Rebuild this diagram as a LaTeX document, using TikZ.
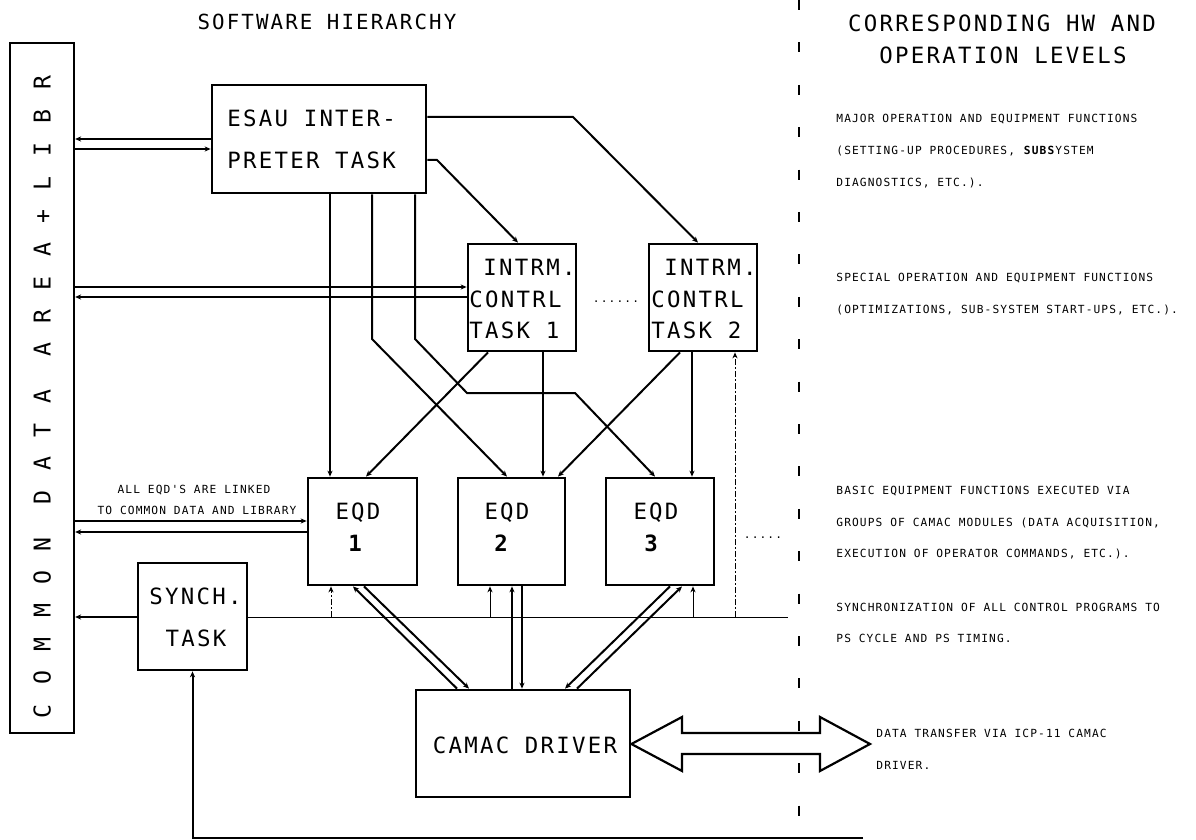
\documentclass[tikz,border=0pt]{standalone}
\usepackage{fontspec}
\usetikzlibrary{arrows.meta,fit}
\newfontfamily\pf[LetterSpace=10]{DejaVu Sans Mono}
\newfontfamily\pfv[LetterSpace=83.5]{DejaVu Sans Mono}
\begin{document}
\begin{tikzpicture}[x=0.5pt,y=-0.5pt,
  box/.style={draw,line width=1.4pt,inner sep=0pt},
  ln/.style={line width=1pt},
  fine/.style={line width=0.5pt},
  dd/.style={line width=0.5pt,dash pattern=on 3pt off 1.2pt on 0.6pt off 1.2pt},
  arr/.style={-{Stealth[length=3pt,width=2.6pt]}},
  big/.style={font={\pf\fontsize{11.2}{13}\selectfont},inner sep=0pt,text height=8.2pt,text depth=0pt},
  bign/.style={font={\pf\bfseries\fontsize{11.2}{13}\selectfont},inner sep=0pt,text height=8.2pt,text depth=0pt},
  ttl/.style={font={\pf\fontsize{10.4}{12}\selectfont},inner sep=0pt,text height=7.6pt,text depth=0pt},
  sml/.style={font={\pf\fontsize{5.6}{7}\selectfont},inner sep=0pt,text height=4.1pt,text depth=0pt,anchor=west},
  vtx/.style={font={\pfv\fontsize{11.6}{13}\selectfont},inner sep=0pt,text height=8.5pt,text depth=0pt,rotate=90}
]
\useasboundingbox (0,0) rectangle (1196,840);
\fill[white] (0,0) rectangle (1196,840);

% ---------- boxes ----------
\node[box,line width=1.2pt,fit={(10,43)(74,733)}] (cd) {};
\node[box,fit={(212,85)(426,193)}] (esau) {};
\node[box,fit={(468,244)(576,351)}] (i1) {};
\node[box,fit={(649,244)(757,351)}] (i2) {};
\node[box,fit={(308,478)(417,585)}] (e1) {};
\node[box,fit={(458,478)(565,585)}] (e2) {};
\node[box,fit={(606,478)(714,585)}] (e3) {};
\node[box,fit={(138,563)(247,670)}] (sy) {};
\node[box,fit={(416,690)(630,797)}] (cam) {};

% ---------- texts ----------
\node[vtx] (cdt) at (42,397) {COMMON\hspace{1.437em}DATA\hspace{1.437em}AREA+LIBR};
\node[ttl] (t1) at (327,22) {SOFTWARE HIERARCHY};
\node[big] (t2) at (1002,23) {CORRESPONDING HW AND};
\node[big] (t3) at (1003,55) {OPERATION LEVELS};

\node[big,anchor=west] (esa) at (227,118) {ESAU INTER-};
\node[big,anchor=west] (esb) at (227,160) {PRETER TASK};

\node[big,anchor=west] (i1a) at (483,267) {INTRM.};
\node[big,anchor=west] (i1b) at (469,299) {CONTRL};
\node[big,anchor=west] (i1c) at (469,330) {TASK 1};
\node[big,anchor=west] (i2a) at (664,267) {INTRM.};
\node[big,anchor=west] (i2b) at (651,299) {CONTRL};
\node[big,anchor=west] (i2c) at (651,330) {TASK 2};
\node[sml,anchor=base] (dots1) at (616,302) {......};

\node[big] (e1a) at (358,511) {EQD};
\node[bign] (e1b) at (355,543) {1};
\node[big] (e2a) at (507,511) {EQD};
\node[bign] (e2b) at (501,543) {2};
\node[big] (e3a) at (656,511) {EQD};
\node[bign] (e3b) at (651,543) {3};
\node[sml,anchor=base] (dots2) at (763,538) {.....};

\node[big,anchor=west] (sya) at (149,596) {SYNCH.};
\node[big] (syb) at (196,638) {TASK};
\node[big] (camt) at (525,745) {CAMAC DRIVER};

\node[sml,anchor=center] (lk1) at (194,489) {ALL EQD'S ARE LINKED};
\node[sml,anchor=center] (lk2) at (197,510) {TO COMMON DATA AND LIBRARY};

\node[sml] (r1) at (836,118) {MAJOR OPERATION AND EQUIPMENT FUNCTIONS};
\node[sml] (r2) at (836,150) {(SETTING-UP PROCEDURES, \textbf{SUBS}YSTEM};
\node[sml] (r3) at (836,182) {DIAGNOSTICS, ETC.).};
\node[sml] (r4) at (836,277) {SPECIAL OPERATION AND EQUIPMENT FUNCTIONS};
\node[sml] (r5) at (836,309) {(OPTIMIZATIONS, SUB-SYSTEM START-UPS, ETC.).};
\node[sml] (r6) at (836,490) {BASIC EQUIPMENT FUNCTIONS EXECUTED VIA};
\node[sml] (r7) at (836,522) {GROUPS OF CAMAC MODULES (DATA ACQUISITION,};
\node[sml] (r8) at (836,553) {EXECUTION OF OPERATOR COMMANDS, ETC.).};
\node[sml] (r9) at (836,607) {SYNCHRONIZATION OF ALL CONTROL PROGRAMS TO};
\node[sml] (r10) at (836,638) {PS CYCLE AND PS TIMING.};
\node[sml] (r11) at (876,733) {DATA TRANSFER VIA ICP-11 CAMAC};
\node[sml] (r12) at (876,765) {DRIVER.};

% ---------- divider ----------
\coordinate (dvt) at (799,0);
\coordinate (dvb) at (799,820);
\draw[line width=0.7pt,dash pattern=on 5pt off 16.2pt] (dvt) -- (dvb);

% ---------- common data links ----------
\draw[ln,arr] (esau.west |- 0,139) -- (cd.east |- 0,139);
\draw[ln,arr] (cd.east |- 0,149) -- (esau.west |- 0,149);
\draw[ln,arr] (cd.east |- 0,287) -- (i1.west |- 0,287);
\draw[ln,arr] (i1.west |- 0,297) -- (cd.east |- 0,297);
\draw[ln,arr] (cd.east |- 0,521) -- (e1.west |- 0,521);
\draw[ln,arr] (e1.west |- 0,532) -- (cd.east |- 0,532);
\draw[ln,arr] (sy.west |- 0,617) -- (cd.east |- 0,617);

% ---------- ESAU to intermediate tasks ----------
\draw[ln,arr] (esau.east |- 0,160) -- (437,160) -- (i1.north -| 518,0);
\draw[ln,arr] (esau.east |- 0,117) -- (573,117) -- (i2.north -| 698,0);

% ---------- ESAU to EQDs ----------
\draw[ln,arr] (esau.south -| 330,0) -- (e1.north -| 330,0);
\draw[ln,arr] (esau.south -| 372,0) -- (372,339) -- (e2.north -| 507,0);
\draw[ln,arr] (esau.south -| 415,0) -- (415,339) -- (467,393) -- (575,393) -- (e3.north -| 655,0);

% ---------- intermediate tasks to EQDs ----------
\draw[ln,arr] (i1.south -| 488,0) -- (e1.north -| 366,0);
\draw[ln,arr] (i1.south -| 543,0) -- (e2.north -| 543,0);
\draw[ln,arr] (i2.south -| 680,0) -- (e2.north -| 558,0);
\draw[ln,arr] (i2.south -| 692,0) -- (e3.north -| 692,0);

% ---------- synchronisation line ----------
\coordinate (slend) at (788,617);
\draw[fine] (sy.east |- slend) -- (slend);
\draw[dd,arr] (slend -| 331,0) -- (e1.south -| 331,0);
\draw[fine,arr] (slend -| 490,0) -- (e2.south -| 490,0);
\draw[fine,arr] (slend -| 693,0) -- (e3.south -| 693,0);
\draw[dd,arr] (slend -| 735,0) -- (i2.south -| 735,0);

% ---------- EQDs <-> CAMAC driver ----------
\draw[ln,arr] (cam.north -| 457,0) -- (e1.south -| 353,0);
\draw[ln,arr] (e1.south -| 364,0) -- (cam.north -| 469,0);
\draw[ln,arr] (cam.north -| 512,0) -- (e2.south -| 512,0);
\draw[ln,arr] (e2.south -| 522,0) -- (cam.north -| 522,0);
\draw[ln,arr] (cam.north -| 577,0) -- (e3.south -| 682,0);
\draw[ln,arr] (e3.south -| 670,0) -- (cam.north -| 565,0);

% ---------- data transfer double arrow ----------
\coordinate (dtip) at (870,744);
\draw[line width=1.1pt,line join=miter] (cam.east |- 0,744) -- (682,717) -- (682,733) -- (820,733) -- (820,717)
  -- (dtip) -- (820,771) -- (820,754) -- (682,754) -- (682,771) -- cycle;

% ---------- return line to SYNCH ----------
\coordinate (rend) at (863,838);
\draw[ln,arr] (rend) -- (sy.south |- rend) -- (sy.south);
\end{tikzpicture}
\end{document}
